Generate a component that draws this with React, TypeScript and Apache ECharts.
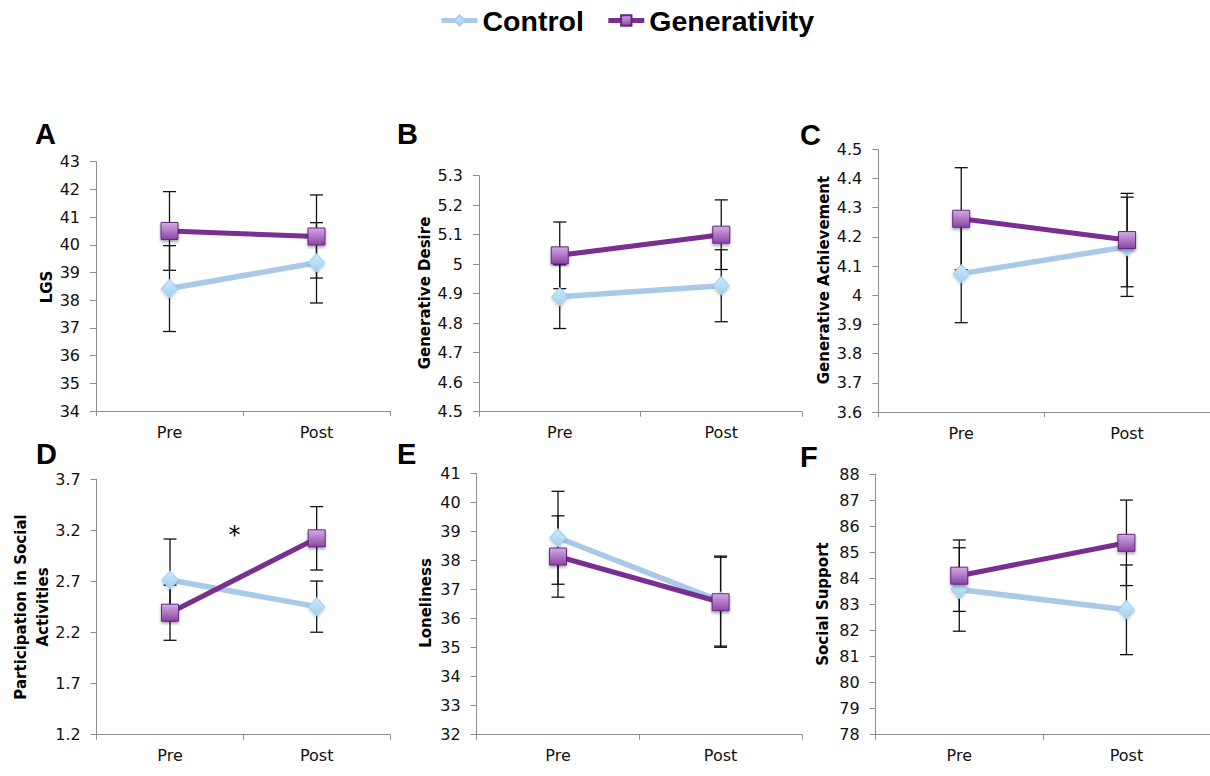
import React, { useEffect, useRef } from 'react';
import * as echarts from 'echarts';

// ---------- data ----------
const categories = ['Pre', 'Post'];
const seriesNames = ['Control', 'Generativity'];

// A: LGS
const lgsControl = [38.42, 39.35];
const lgsGen = [40.5, 40.3];
const lgsControlErr = [1.55, 1.45];
const lgsGenErr = [1.42, 1.5];
const lgsTicks = [34, 35, 36, 37, 38, 39, 40, 41, 42, 43];

// B: Generative Desire
const desireControl = [4.89, 4.927];
const desireGen = [5.03, 5.1];
const desireControlErr = [0.108, 0.122];
const desireGenErr = [0.113, 0.118];
const desireTicks = [4.5, 4.6, 4.7, 4.8, 4.9, 5, 5.1, 5.2, 5.3];

// C: Generative Achievement
const achieveControl = [4.074, 4.166];
const achieveGen = [4.262, 4.189];
const achieveControlErr = [0.168, 0.17];
const achieveGenErr = [0.175, 0.16];
const achieveTicks = [3.6, 3.7, 3.8, 3.9, 4, 4.1, 4.2, 4.3, 4.4, 4.5];

// D: Participation in Social Activities
const socialActControl = [2.713, 2.452];
const socialActGen = [2.393, 3.12];
const socialActControlErr = [0.4, 0.25];
const socialActGenErr = [0.27, 0.31];
const socialActTicks = [1.2, 1.7, 2.2, 2.7, 3.2, 3.7];

// E: Loneliness
const lonelyControl = [38.78, 36.6];
const lonelyGen = [38.135, 36.56];
const lonelyControlErr = [1.6, 1.55];
const lonelyGenErr = [1.4, 1.55];
const lonelyTicks = [32, 33, 34, 35, 36, 37, 38, 39, 40, 41];

// F: Social Support
const supportControl = [83.57, 82.79];
const supportGen = [84.1, 85.36];
const supportControlErr = [1.6, 1.72];
const supportGenErr = [1.37, 1.64];
const supportTicks = [78, 79, 80, 81, 82, 83, 84, 85, 86, 87, 88];

// ---------- layout / style ----------
const FONT = 'DejaVu Sans';
const BOLD = 'Liberation Sans';
const AXIS_COLOR = '#8e8e8e';
const CONTROL_LINE = '#a9c9e8';
const GEN_LINE = '#7a2e90';

const panels = [
  { letter: 'A', title: 'LGS', control: lgsControl, gen: lgsGen, cErr: lgsControlErr, gErr: lgsGenErr, ticks: lgsTicks,
    grid: { left: 96, top: 161.7, width: 294, height: 249.3 }, titlePos: [47, 287], letterPos: [35, 134] },
  { letter: 'B', title: 'Generative Desire', control: desireControl, gen: desireGen, cErr: desireControlErr, gErr: desireGenErr, ticks: desireTicks,
    grid: { left: 479, top: 175.7, width: 323, height: 236 }, titlePos: [425, 293], letterPos: [397, 134] },
  { letter: 'C', title: 'Generative Achievement', control: achieveControl, gen: achieveGen, cErr: achieveControlErr, gErr: achieveGenErr, ticks: achieveTicks,
    grid: { left: 878.3, top: 149.3, width: 337, height: 262.7 }, titlePos: [824, 280], letterPos: [800, 134.5] },
  { letter: 'D', title: 'Participation in Social\nActivities', control: socialActControl, gen: socialActGen, cErr: socialActControlErr, gErr: socialActGenErr, ticks: socialActTicks,
    grid: { left: 96.7, top: 479, width: 293.3, height: 255.7 }, titlePos: [32, 607], letterPos: [36, 454] },
  { letter: 'E', title: 'Loneliness', control: lonelyControl, gen: lonelyGen, cErr: lonelyControlErr, gErr: lonelyGenErr, ticks: lonelyTicks,
    grid: { left: 476.7, top: 473.3, width: 325.2, height: 261.4 }, titlePos: [426, 603], letterPos: [397, 453.5] },
  { letter: 'F', title: 'Social Support', control: supportControl, gen: supportGen, cErr: supportControlErr, gErr: supportGenErr, ticks: supportTicks,
    grid: { left: 875.7, top: 474, width: 338.6, height: 260.7 }, titlePos: [823, 604], letterPos: [800, 457] },
];

function errData(vals: number[], errs: number[]) {
  return vals.map((v, i) => [i, v - errs[i], v + errs[i]]);
}

function renderErr(params: any, api: any) {
  const x = api.value(0);
  const lo = api.coord([x, api.value(1)]);
  const hi = api.coord([x, api.value(2)]);
  const hw = 6.5;
  const st = { stroke: '#111', lineWidth: 1.3 };
  return {
    type: 'group',
    children: [
      { type: 'line', shape: { x1: lo[0], y1: lo[1], x2: hi[0], y2: hi[1] }, style: st },
      { type: 'line', shape: { x1: lo[0] - hw, y1: lo[1], x2: lo[0] + hw, y2: lo[1] }, style: st },
      { type: 'line', shape: { x1: hi[0] - hw, y1: hi[1], x2: hi[0] + hw, y2: hi[1] }, style: st },
    ],
  };
}

export default function App() {
  const ref = useRef<HTMLDivElement>(null);
  useEffect(() => {
    if (!ref.current) return;
    const chart = echarts.init(ref.current, null, { renderer: 'svg' });

    const diamondFill = new echarts.graphic.LinearGradient(0, 0, 0, 1, [
      { offset: 0, color: '#cdeafb' },
      { offset: 1, color: '#a0d0ef' },
    ]);
    const squareFill = new echarts.graphic.LinearGradient(0, 0, 0, 1, [
      { offset: 0, color: '#d2ade2' },
      { offset: 1, color: '#8a44a6' },
    ]);

    const grids: any[] = [];
    const xAxes: any[] = [];
    const yAxes: any[] = [];
    const series: any[] = [];
    const graphics: any[] = [];

    panels.forEach((p, i) => {
      grids.push({ ...p.grid, containLabel: false });
      xAxes.push({
        type: 'category',
        gridIndex: i,
        data: categories,
        boundaryGap: true,
        axisLine: { lineStyle: { color: AXIS_COLOR, width: 1 } },
        axisTick: { show: true, length: 5, lineStyle: { color: AXIS_COLOR } },
        axisLabel: { color: '#111', fontFamily: FONT, fontSize: 16, margin: 13 },
        splitLine: { show: false },
      });
      yAxes.push({
        type: 'value',
        gridIndex: i,
        min: p.ticks[0],
        max: p.ticks[p.ticks.length - 1],
        axisLine: { show: true, lineStyle: { color: AXIS_COLOR, width: 1 } },
        axisTick: { show: true, length: 6, lineStyle: { color: AXIS_COLOR }, customValues: p.ticks },
        axisLabel: { color: '#111', fontFamily: FONT, fontSize: 16, margin: 16, customValues: p.ticks },
        splitLine: { show: false },
      });
      series.push({
        type: 'custom',
        xAxisIndex: i,
        yAxisIndex: i,
        z: 1,
        silent: true,
        renderItem: renderErr,
        encode: { x: 0, y: [1, 2] },
        data: errData(p.control, p.cErr),
      });
      series.push({
        type: 'custom',
        xAxisIndex: i,
        yAxisIndex: i,
        z: 1,
        silent: true,
        renderItem: renderErr,
        encode: { x: 0, y: [1, 2] },
        data: errData(p.gen, p.gErr),
      });
      series.push({
        name: seriesNames[0],
        type: 'line',
        xAxisIndex: i,
        yAxisIndex: i,
        z: 2,
        data: p.control,
        symbol: 'diamond',
        symbolSize: [16, 18],
        lineStyle: { color: CONTROL_LINE, width: 5.5 },
        itemStyle: {
          color: diamondFill,
          borderColor: '#a3cfee',
          borderWidth: 1,
          shadowColor: 'rgba(0,0,0,0.25)',
          shadowBlur: 3,
          shadowOffsetY: 1.5,
        },
      });
      series.push({
        name: seriesNames[1],
        type: 'line',
        xAxisIndex: i,
        yAxisIndex: i,
        z: 3,
        data: p.gen,
        symbol: 'rect',
        symbolSize: 17,
        lineStyle: { color: GEN_LINE, width: 5 },
        itemStyle: {
          color: squareFill,
          borderColor: '#6a2480',
          borderWidth: 1,
          shadowColor: 'rgba(0,0,0,0.35)',
          shadowBlur: 3,
          shadowOffsetY: 2,
        },
      });

      graphics.push({
        type: 'text',
        x: p.titlePos[0],
        y: p.titlePos[1],
        rotation: Math.PI / 2,
        style: {
          text: p.title,
          fontFamily: FONT,
          fontWeight: 'bold',
          fontSize: 15,
          lineHeight: 22,
          fill: '#000',
          textAlign: 'center',
          textVerticalAlign: 'middle',
        },
      });
      graphics.push({
        type: 'text',
        x: p.letterPos[0],
        y: p.letterPos[1],
        style: {
          text: p.letter,
          fontFamily: BOLD,
          fontWeight: 'bold',
          fontSize: 29,
          fill: '#000',
          textAlign: 'left',
          textVerticalAlign: 'middle',
        },
      });
    });

    graphics.push({
      type: 'text',
      x: 234.5,
      y: 535,
      style: {
        text: '*',
        fontFamily: FONT,
        fontSize: 24,
        fill: '#000',
        textAlign: 'center',
        textVerticalAlign: 'middle',
      },
    });

    chart.setOption({
      animation: false,
      backgroundColor: '#ffffff',
      legend: {
        data: seriesNames,
        left: 434,
        top: 1,
        itemWidth: 36,
        itemHeight: 13,
        itemGap: 22,
        lineStyle: { width: 5 },
        textStyle: { fontFamily: BOLD, fontWeight: 'bold', fontSize: 28.5, color: '#000' },
      },
      grid: grids,
      xAxis: xAxes,
      yAxis: yAxes,
      series,
      graphic: graphics,
    });
    return () => chart.dispose();
  }, []);

  return <div ref={ref} style={{ position: 'absolute', left: 0, top: 0, width: 1210, height: 776 }} />;
}
